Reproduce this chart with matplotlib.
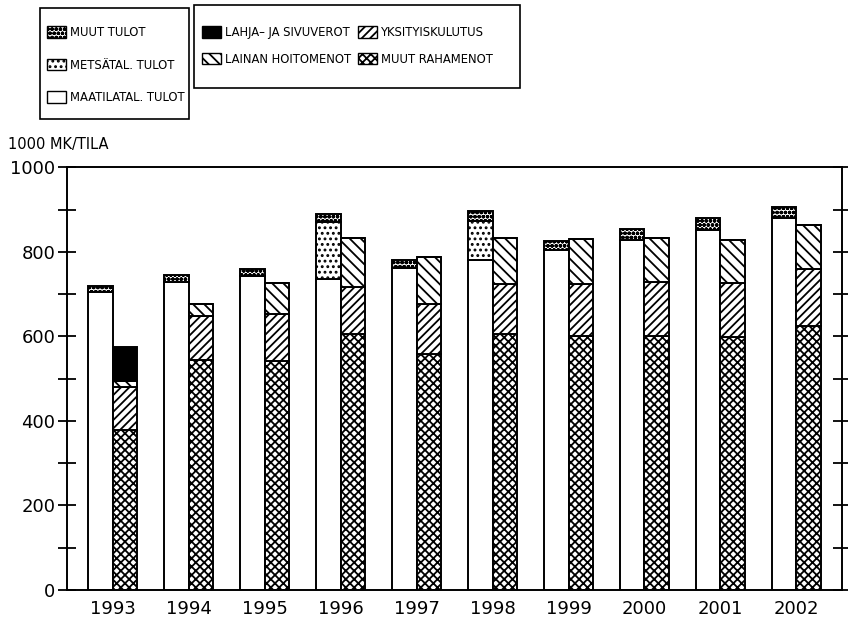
import numpy as np
import matplotlib
matplotlib.use("Agg")
import matplotlib.pyplot as plt
from matplotlib.patches import Patch, Rectangle
from matplotlib import font_manager as fm

plt.rcParams['font.family'] = ['DejaVu Sans']
plt.rcParams['hatch.linewidth'] = 1.3

# narrow face for the legend texts if there is one
narrow = None
for f in fm.fontManager.ttflist:
    if f.name == 'DejaVu Sans' and f.stretch in ('condensed', 'semi-condensed'):
        narrow = fm.FontProperties(family='DejaVu Sans', stretch='condensed', size=9.3)
        break
if narrow is None:
    narrow = fm.FontProperties(family='Liberation Sans', size=9)

# 1000 mk per farm
years = ["1993", "1994", "1995", "1996", "1997", "1998", "1999", "2000", "2001", "2002"]
# income side
maatila_tulot = [706, 728, 742, 736, 761, 781, 805, 829, 853, 881]
metsa_tulot = [0, 0, 0, 136, 0, 93, 0, 0, 0, 0]
muut_tulot = [14, 18, 18, 18, 20, 23, 22, 25, 27, 25]
# spending side
muut_rahamenot = [379, 544, 543, 607, 559, 607, 600, 601, 598, 624]
yksityiskulutus = [102, 105, 110, 111, 117, 118, 124, 129, 129, 136]
lainan_hoito = [14, 27, 73, 114, 112, 107, 106, 104, 102, 103]
lahja_verot = [81, 0, 0, 0, 0, 0, 0, 0, 0, 0]

x = np.arange(len(years))
w = 0.32
kw = dict(width=w, edgecolor='black', linewidth=1.4)

W, H = 848, 626
fig = plt.figure(figsize=(W/100, H/100), dpi=100)
ax = fig.add_axes([0.079, 0.0575, 0.914, 0.675])

# income bars
b = np.zeros(len(years))
ax.bar(x - w/2, maatila_tulot, bottom=b, color='white', **kw)
b += maatila_tulot
ax.bar(x - w/2, metsa_tulot, bottom=b, color='white', hatch='...', **kw)
b += metsa_tulot
ax.bar(x - w/2, muut_tulot, bottom=b, color='white', hatch='oooo', **kw)

# spending bars
b = np.zeros(len(years))
ax.bar(x + w/2, muut_rahamenot, bottom=b, color='white', hatch='xxxx', **kw)
b += muut_rahamenot
ax.bar(x + w/2, yksityiskulutus, bottom=b, color='white', hatch='////', **kw)
b += yksityiskulutus
ax.bar(x + w/2, lainan_hoito, bottom=b, color='white', hatch='\\\\\\', **kw)
b += lainan_hoito
ax.bar(x + w/2, lahja_verot, bottom=b, color='black', **kw)

ax.set_xlim(-0.6, 9.6)
ax.set_ylim(0, 1000)
ax.set_xticks(x)
ax.set_xticklabels(years, fontsize=13)
ax.set_yticks(np.arange(0, 1001, 200))
ax.set_yticks(np.arange(100, 1000, 200), minor=True)
ax.tick_params(axis='x', length=0, pad=7)
ax.tick_params(axis='y', which='both', direction='inout', length=13, width=1.3,
               right=True, labelsize=13, pad=2)
for s in ax.spines.values():
    s.set_linewidth(1.4)

fig.text(8/W, 1 - 144/H, "1000 MK/TILA", fontsize=10.5, va='center')

# legend frames drawn by hand, legends sit inside without their own frame
def frame(x0, y0, x1, y1):
    fig.add_artist(Rectangle((x0/W, 1 - y1/H), (x1 - x0)/W, (y1 - y0)/H,
                             transform=fig.transFigure, fill=False,
                             edgecolor='black', linewidth=1.2))

frame(40, 8, 189, 119)
frame(194, 5, 520, 88)

h1 = [Patch(facecolor='white', edgecolor='black', hatch='oooo', label='MUUT TULOT'),
      Patch(facecolor='white', edgecolor='black', hatch='...', label='METSÄTAL. TULOT'),
      Patch(facecolor='white', edgecolor='black', label='MAATILATAL. TULOT')]
fig.legend(handles=h1, loc='upper left', bbox_to_anchor=(47/W, 1 - 26/H),
           prop=narrow, frameon=False, handlelength=1.45, handleheight=1.0,
           labelspacing=1.5, borderpad=0, handletextpad=0.3, borderaxespad=0)

h2 = [Patch(facecolor='black', edgecolor='black', label='LAHJA– JA SIVUVEROT'),
      Patch(facecolor='white', edgecolor='black', hatch='\\\\\\', label='LAINAN HOITOMENOT'),
      Patch(facecolor='white', edgecolor='black', hatch='////', label='YKSITYISKULUTUS'),
      Patch(facecolor='white', edgecolor='black', hatch='xxxx', label='MUUT RAHAMENOT')]
fig.legend(handles=h2, loc='upper left', bbox_to_anchor=(202/W, 1 - 26/H),
           ncol=2, prop=narrow, frameon=False, handlelength=1.45, handleheight=1.0,
           labelspacing=1.05, borderpad=0, handletextpad=0.3, columnspacing=0.6,
           borderaxespad=0)

fig.savefig("out.png", dpi=100)
